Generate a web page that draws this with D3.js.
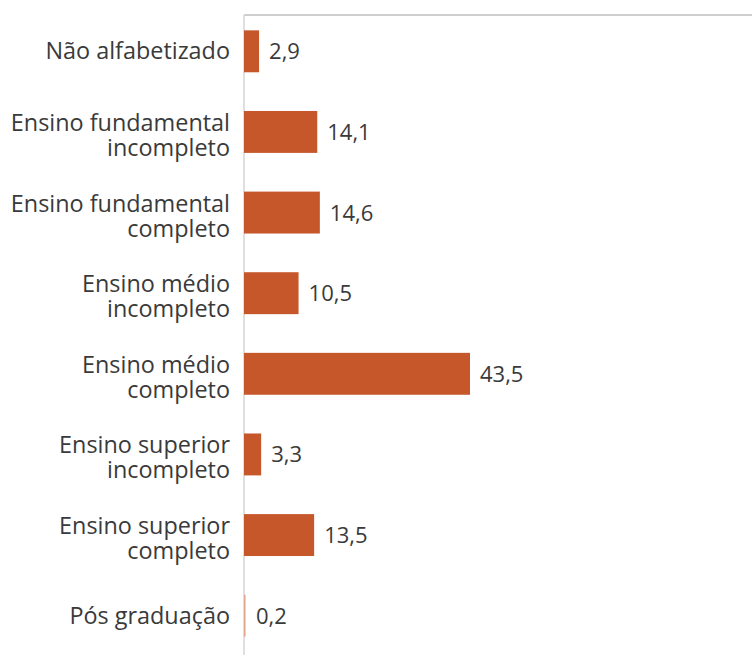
<!DOCTYPE html>
<html>
<head>
<meta charset="utf-8">
<script src="https://cdn.jsdelivr.net/npm/d3@7"></script>
<style>
  body { margin: 0; background: #fff; }
  text { font-family: "Open Sans", sans-serif; fill: #3a3a3a; }
</style>
</head>
<body>
<svg id="chart"></svg>
<script>
// escolaridade - percentuais
const categories = [
  ["Não alfabetizado"],
  ["Ensino fundamental", "incompleto"],
  ["Ensino fundamental", "completo"],
  ["Ensino médio", "incompleto"],
  ["Ensino médio", "completo"],
  ["Ensino superior", "incompleto"],
  ["Ensino superior", "completo"],
  ["Pós graduação"]
]
const values = [2.9, 14.1, 14.6, 10.5, 43.5, 3.3, 13.5, 0.2]
const valueLabels = ["2,9", "14,1", "14,6", "10,5", "43,5", "3,3", "13,5", "0,2"]

const width = 752, height = 655
const margin = {top: 11, right: 0, bottom: 0, left: 244}

const svg = d3.select("#chart")
  .attr("width", width)
  .attr("height", height)

const x = d3.scaleLinear()
  .domain([0, 43.5])
  .range([margin.left, 470])

const y = d3.scaleBand()
  .domain(d3.range(values.length))
  .range([margin.top, height + 1])
  .paddingInner(0.48)
  .paddingOuter(0.24)

// top border + vertical axis
svg.append("line")
  .attr("x1", margin.left).attr("x2", width)
  .attr("y1", 15).attr("y2", 15)
  .attr("stroke", "#cfcfcf").attr("stroke-width", 2)

svg.append("line")
  .attr("x1", margin.left).attr("x2", margin.left)
  .attr("y1", 15).attr("y2", height)
  .attr("stroke", "#d4d4d4").attr("stroke-width", 1.5)

svg.append("g")
  .selectAll("rect")
  .data(values)
  .join("rect")
    .attr("x", x(0))
    .attr("y", (d, i) => y(i))
    .attr("width", d => Math.max(x(d) - x(0), 1.5))
    .attr("height", y.bandwidth())
    .attr("fill", d => d < 1 ? "#e0a58f" : "#c5572a")

svg.append("g")
  .selectAll("text")
  .data(values)
  .join("text")
    .attr("x", d => Math.max(x(d), x(0) + 2) + 10)
    .attr("y", (d, i) => y(i) + y.bandwidth() / 2 + 8)
    .attr("font-size", 22)
    .text((d, i) => valueLabels[i])

// category labels, one or two lines, right aligned next to the axis
const lineH = 25
svg.append("g")
  .selectAll("text")
  .data(categories)
  .join("text")
    .attr("text-anchor", "end")
    .attr("font-size", 23.4)
  .selectAll("tspan")
  .data((d, i) => d.map((t, j) => ({t, j, i, n: d.length})))
  .join("tspan")
    .attr("x", 230)
    .attr("y", d => {
      const c = y(d.i) + y.bandwidth() / 2
      const base = d.n === 1 ? c + 8 : c - 1
      return base + d.j * lineH
    })
    .text(d => d.t)
</script>
</body>
</html>
